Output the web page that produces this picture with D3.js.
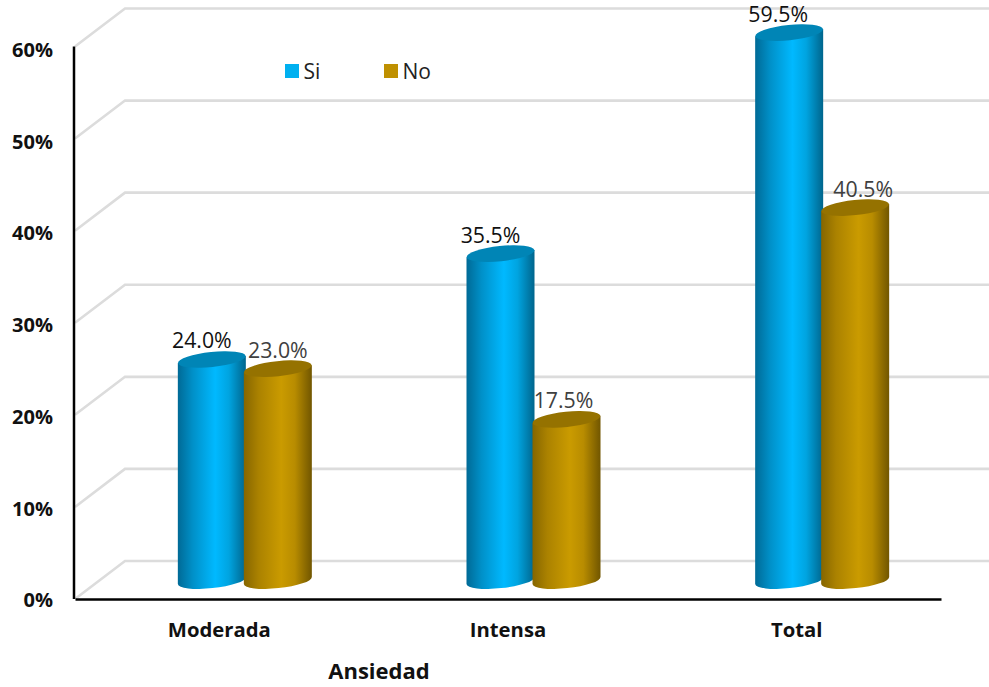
<!DOCTYPE html>
<html>
<head>
<meta charset="utf-8">
<script src="https://cdn.jsdelivr.net/npm/d3@7"></script>
<style>
  html, body { margin: 0; padding: 0; background: #fff; }
  svg { display: block; }
  text { font-family: "Open Sans", "Noto Sans", sans-serif; }
</style>
</head>
<body>
<svg id="chart" width="989" height="687"></svg>
<script>
// Anxiety level by answer group, percentages
const categories = ["Moderada", "Intensa", "Total"];
const seriesNames = ["Si", "No"];
const siValues = [24.0, 35.5, 59.5];
const noValues = [23.0, 17.5, 40.5];
const percentTicks = [0, 10, 20, 30, 40, 50, 60];
const axisTitle = "Ansiedad";

const W = 989, H = 687;
const svg = d3.select("#chart").attr("viewBox", `0 0 ${W} ${H}`);

// Front plane of the pseudo-3D box, and the depth offset to the back wall
const x = d3.scaleBand().domain(categories).range([75, 941]);
const y = d3.scaleLinear().domain([0, 60]).range([599, 46.5]);
const tickLabelY = d3.scaleLinear().domain([0, 60]).range([600.5, 50]);
const depthX = 50, depthY = -38;

// Cylinders stand halfway into the box
const barDepthX = 25.5, barDepthY = -18.5;
const series = d3.scaleBand().domain(seriesNames).range([-66, 66]);
const rx = 34, ry = 7.6, tilt = -6;
const rad = tilt * Math.PI / 180;
const edgeRise = rx * Math.sin(rad);

const palette = {
  Si: { side: ["#006a96", "#0090c8", "#00b9ff", "#00a4e0", "#00658c"], cap: "#0085b6", key: "#00b0f0", label: "#111111" },
  No: { side: ["#866600", "#ab8200", "#ca9b00", "#b88c00", "#715600"], cap: "#957200", key: "#bf9000", label: "#404040" }
};
const labelShift = { Si: [-10, -10, -11], No: [0, -3, 8] };

// Cylinder side shading
const defs = svg.append("defs");
seriesNames.forEach(name => {
  const g = defs.append("linearGradient").attr("id", `side-${name}`)
    .attr("x1", 0).attr("x2", 1).attr("y1", 0).attr("y2", 0);
  [0, 0.22, 0.55, 0.75, 1].forEach((o, i) =>
    g.append("stop").attr("offset", o).attr("stop-color", palette[name].side[i]));
});

// Back wall gridlines with their diagonal returns to the front plane
const grid = svg.append("g").attr("fill", "none").attr("stroke", "#dcdcdc").attr("stroke-width", 2.6);
grid.selectAll("path").data(percentTicks).join("path")
  .attr("d", d => `M${x.range()[0]},${y(d)}L${x.range()[0] + depthX},${y(d) + depthY}L${W},${y(d) + depthY}`);

// Cylinders
const rows = [
  { name: "Si", values: siValues },
  { name: "No", values: noValues }
];
const bars = svg.append("g");
rows.forEach(row => {
  row.values.forEach((v, i) => {
    const cx = x(categories[i]) + x.bandwidth() / 2 + barDepthX + series(row.name) + series.bandwidth() / 2;
    const yTop = y(v) + barDepthY;
    const yBase = y(0) + barDepthY;
    const left = cx - rx, right = cx + rx;
    bars.append("path")
      .attr("d", `M${left},${yTop - edgeRise}L${left},${yBase - edgeRise}` +
        `A${rx},${ry} ${tilt} 0 0 ${right},${yBase + edgeRise}L${right},${yTop + edgeRise}Z`)
      .attr("fill", `url(#side-${row.name})`);
    bars.append("ellipse")
      .attr("cx", cx).attr("cy", yTop).attr("rx", rx).attr("ry", ry)
      .attr("transform", `rotate(${tilt} ${cx} ${yTop})`)
      .attr("fill", palette[row.name].cap);
  });
});

// Value labels above each cylinder
rows.forEach(row => {
  svg.append("g").selectAll("text").data(row.values).join("text")
    .attr("x", (d, i) => x(categories[i]) + x.bandwidth() / 2 + barDepthX + series(row.name) + series.bandwidth() / 2 + labelShift[row.name][i])
    .attr("y", d => y(d) + barDepthY - 18.5)
    .attr("dy", "0.35em")
    .attr("text-anchor", "middle")
    .attr("font-size", 21.3)
    .attr("fill", palette[row.name].label)
    .text(d => d.toFixed(1) + "%");
});

// Value axis
const yAxis = svg.append("g").attr("transform", "translate(74,0)")
  .call(d3.axisLeft(tickLabelY).tickValues(percentTicks).tickSize(0).tickPadding(21).tickFormat(d => d + "%"));
yAxis.select(".domain").remove();
yAxis.selectAll("text").attr("font-size", 20).attr("font-weight", 700).attr("fill", "#111")
  .style("font-family", '"Open Sans", "Noto Sans", sans-serif');
svg.append("line").attr("x1", 74).attr("x2", 74).attr("y1", y(60)).attr("y2", y(0))
  .attr("stroke", "#000").attr("stroke-width", 2.5);

// Category axis
const xAxis = svg.append("g").attr("transform", `translate(0,${y(0)})`)
  .call(d3.axisBottom(x).tickSize(0).tickPadding(24));
xAxis.select(".domain").attr("stroke", "#000").attr("stroke-width", 2.5);
xAxis.selectAll("text").attr("font-size", 20.3).attr("font-weight", 700).attr("fill", "#111")
  .style("font-family", '"Open Sans", "Noto Sans", sans-serif');

svg.append("text").attr("x", 379).attr("y", 679)
  .attr("text-anchor", "middle").attr("font-size", 22).attr("font-weight", 700).attr("fill", "#111")
  .text(axisTitle);

// Legend
const legendX = d3.scalePoint().domain(seriesNames).range([285, 384]);
const legend = svg.append("g").selectAll("g").data(seriesNames).join("g")
  .attr("transform", d => `translate(${legendX(d)},64)`);
legend.append("rect").attr("width", 14).attr("height", 14).attr("fill", d => palette[d].key);
legend.append("text").attr("x", 18.5).attr("y", 7).attr("dy", "0.36em")
  .attr("font-size", 21).attr("fill", "#222").text(d => d);
</script>
</body>
</html>
